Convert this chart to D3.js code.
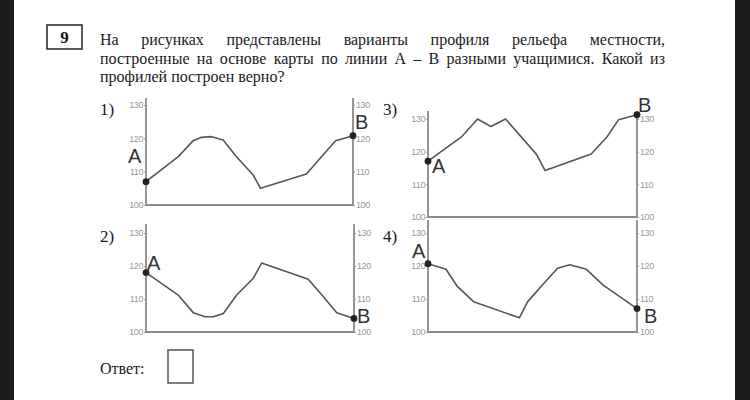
<!DOCTYPE html>
<html lang="ru">
    <head>
        <meta charset="UTF-8" />
        <title>Профиль рельефа</title>
        <script src="https://d3js.org/d3.v7.js"></script>
    </head>

    <body>
        <div id="dataviz"></div>
    </body>

    <script>
        // distance along the A-B line (percent) and height (m) for each variant
        const dist1 = [0, 15.6, 22.8, 26.8, 31.7, 37.3, 43.7, 51.8, 55.3, 77.5, 85.5, 91.6, 100];
        const height1 = [107, 114.5, 119.3, 120.3, 120.5, 119.5, 114.5, 109, 105, 109.3, 115, 119.3, 120.8];

        const dist2 = [0, 15.5, 22.8, 28.4, 32.4, 37.2, 43.6, 51.6, 55.6, 78, 85.3, 91.7, 100];
        const height2 = [118, 111.2, 105.8, 104.6, 104.6, 105.6, 111.2, 116.3, 120.9, 116, 110.7, 105.8, 104.1];

        const dist3 = [0, 16, 23.7, 30.1, 37.1, 52, 56, 78.1, 85.6, 91.2, 100];
        const height3 = [117.1, 124.5, 130, 127.7, 130, 119.1, 114.2, 119.3, 124.5, 129.8, 131.3];

        const dist4 = [0, 8.6, 13.8, 21.8, 43.7, 47.7, 54.4, 62, 67.9, 75.8, 83.8, 100];
        const height4 = [120.7, 119, 114, 109.2, 104.3, 109.2, 114, 119.3, 120.4, 119, 114.2, 107.1];

        const heightTicks = [100, 110, 120, 130];
        const variantLabels = ["1)", "2)", "3)", "4)"];

        const questionLines = [
            "На рисунках представлены варианты профиля рельефа местности,",
            "построенные на основе карты по линии А – В разными учащимися. Какой из",
            "профилей построен верно?"
        ];

        const width = 750, height = 400;

        const svg = d3.select("#dataviz")
            .append("svg")
            .attr("width", width)
            .attr("height", height);

        svg.append("rect").attr("width", width).attr("height", height).attr("fill", "#fff");
        // dark screen borders of the photo
        svg.append("rect").attr("x", 0).attr("width", 14).attr("height", height).attr("fill", "#1d1d1f");
        svg.append("rect").attr("x", 735).attr("width", 15).attr("height", height).attr("fill", "#1d1d1f");

        const serif = "'Liberation Serif', 'Times New Roman', serif";
        const sans = "'Liberation Sans', Arial, sans-serif";

        // question number box
        svg.append("rect")
            .attr("x", 47).attr("y", 25).attr("width", 35).attr("height", 24)
            .attr("fill", "none").attr("stroke", "#222").attr("stroke-width", 1.5);
        svg.append("text")
            .attr("x", 64.5).attr("y", 43)
            .attr("text-anchor", "middle")
            .style("font-family", serif).style("font-size", "17px").style("font-weight", "bold")
            .attr("fill", "#111")
            .text("9");

        // question text, first two lines justified
        function textLine(str, y, justify) {
            const left = 100, right = 665;
            const g = svg.append("g");
            const words = str.split(" ");
            const nodes = words.map(w => g.append("text")
                .attr("y", y)
                .style("font-family", serif).style("font-size", "16px")
                .attr("fill", "#1a1a1a")
                .text(w));
            const widths = nodes.map(n => n.node().getComputedTextLength());
            const total = d3.sum(widths);
            const gap = justify ? (right - left - total) / (words.length - 1) : 4;
            let x = left;
            nodes.forEach((n, i) => { n.attr("x", x); x += widths[i] + gap; });
        }
        textLine(questionLines[0], 45, true);
        textLine(questionLines[1], 63.5, true);
        textLine(questionLines[2], 82, false);

        // panel placement
        const panels = [
            {dist: dist1, h: height1, left: 146, right: 353, y100: 205, y130: 105, top: 98, lx: 100, ly: 115,
             a: {x: -18, y: -19}, b: {x: 2, y: -7}},
            {dist: dist2, h: height2, left: 146, right: 354, y100: 332, y130: 233, top: 224, lx: 100, ly: 242,
             a: {x: 1, y: -3}, b: {x: 3, y: 5}},
            {dist: dist3, h: height3, left: 428, right: 637, y100: 217, y130: 119, top: 111, lx: 383, ly: 115,
             a: {x: 4, y: 12}, b: {x: 1, y: -3}},
            {dist: dist4, h: height4, left: 428, right: 637, y100: 332, y130: 233, top: 220, lx: 383, ly: 242,
             a: {x: -16, y: -6}, b: {x: 7, y: 14}}
        ];

        panels.forEach(function(p, i) {
            const x = d3.scaleLinear().domain([0, 100]).range([p.left, p.right]);
            const y = d3.scaleLinear().domain([100, 130]).range([p.y100, p.y130]);
            const g = svg.append("g");

            svg.append("text")
                .attr("x", p.lx).attr("y", p.ly)
                .style("font-family", serif).style("font-size", "17px")
                .attr("fill", "#1a1a1a")
                .text(variantLabels[i]);

            // frame: two vertical axes and the base line
            g.append("path")
                .attr("d", `M${x(0)},${p.top}V${y(100)}H${x(100)}V${p.top}`)
                .attr("fill", "none").attr("stroke", "#8a8a8a").attr("stroke-width", 1.8);

            const leftAxis = d3.axisLeft(y).tickValues(heightTicks).tickSize(2).tickPadding(1);
            const rightAxis = d3.axisRight(y).tickValues(heightTicks).tickSize(2).tickPadding(1);
            [[leftAxis, x(0)], [rightAxis, x(100)]].forEach(function(a) {
                const ax = g.append("g")
                    .attr("transform", `translate(${a[1]},0)`)
                    .call(a[0]);
                ax.select(".domain").remove();
                ax.selectAll("line").attr("stroke", "#9a9a9a");
                ax.selectAll("text")
                    .attr("fill", "#999")
                    .style("font-family", "'Liberation Sans Narrow', " + sans)
                    .style("font-size", "9px")
                    .style("letter-spacing", "-0.4px");
            });

            const pts = p.dist.map((d, k) => [d, p.h[k]]);
            g.append("path")
                .datum(pts)
                .attr("d", d3.line().x(d => x(d[0])).y(d => y(d[1])))
                .attr("fill", "none").attr("stroke", "#555").attr("stroke-width", 1.6)
                .attr("stroke-linejoin", "round");

            const ends = [pts[0], pts[pts.length - 1]];
            g.selectAll("circle")
                .data(ends)
                .join("circle")
                .attr("cx", d => x(d[0])).attr("cy", d => y(d[1]))
                .attr("r", 3.4).attr("fill", "#222");

            const la = p.a, lb = p.b;
            g.append("text")
                .attr("x", x(0) + la.x).attr("y", y(ends[0][1]) + la.y)
                .style("font-family", sans).style("font-size", "20px")
                .attr("fill", "#333")
                .text("A");
            g.append("text")
                .attr("x", x(100) + lb.x).attr("y", y(ends[1][1]) + lb.y)
                .style("font-family", sans).style("font-size", "20px")
                .attr("fill", "#333")
                .text("B");
        });

        // answer field
        svg.append("text")
            .attr("x", 100).attr("y", 374)
            .style("font-family", serif).style("font-size", "16px")
            .attr("fill", "#1a1a1a")
            .text("Ответ:");
        svg.append("rect")
            .attr("x", 168).attr("y", 350).attr("width", 25).attr("height", 33)
            .attr("fill", "none").attr("stroke", "#555").attr("stroke-width", 1.5);
    </script>

    <style>
        body { margin: 0; }
        svg { display: block; }
    </style>
</html>
